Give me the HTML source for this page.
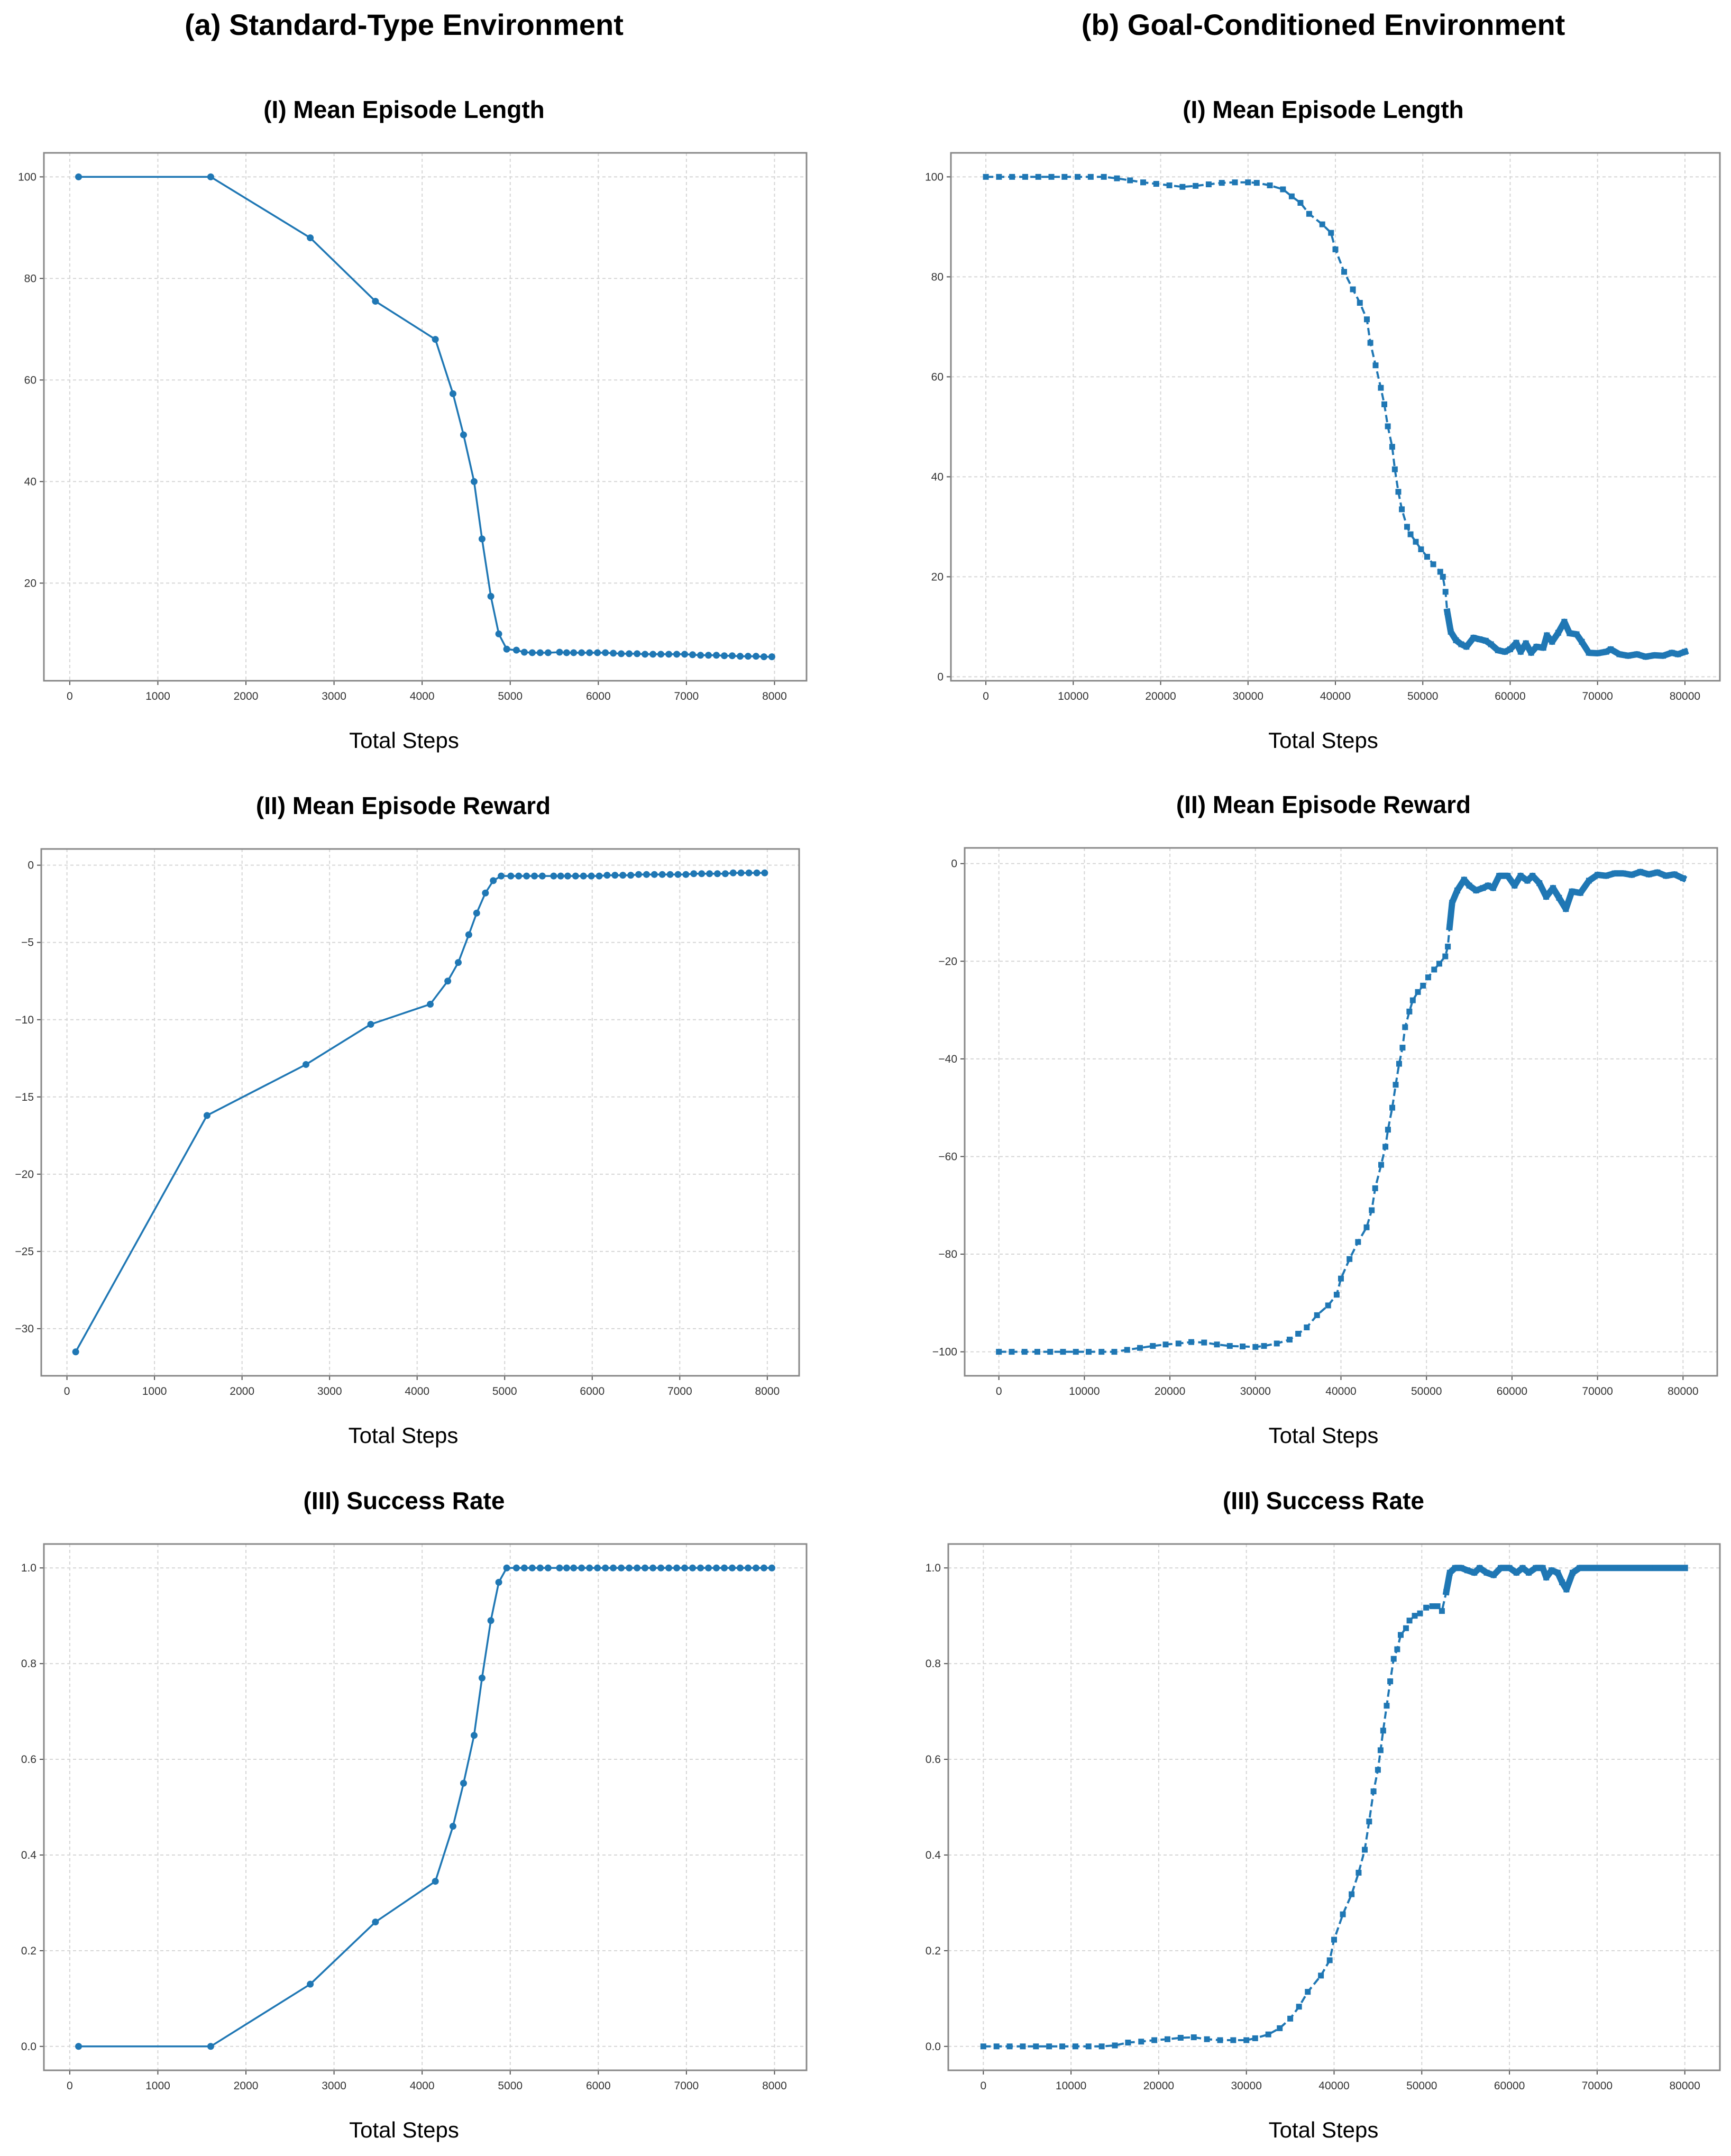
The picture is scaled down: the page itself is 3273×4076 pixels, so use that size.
<!DOCTYPE html>
<html><head><meta charset="utf-8">
<style>
html,body{margin:0;padding:0;background:#fff;}
svg{display:block;}
text{font-family:"Liberation Sans",sans-serif;}
</style></head>
<body>
<svg id="fig" width="3273" height="4076" viewBox="0 0 3273 4076" xmlns="http://www.w3.org/2000/svg">
<rect width="3273" height="4076" fill="#fff"/>
<text x="764" y="66" font-size="56" font-weight="bold" text-anchor="middle">(a) Standard-Type Environment</text>
<text x="2502" y="66" font-size="56" font-weight="bold" text-anchor="middle">(b) Goal-Conditioned  Environment</text>
</svg>
<script>
// ---- data: Standard-type environment ----
const aSteps = [100,1600,2730,3470,4150,4350,4470,4590,4680,4780,4870,4960,5070,5160,5250,5340,5430,5560,5640,5720,5810,5900,5990,6080,6170,6260,6350,6440,6530,6620,6710,6800,6890,6980,7070,7160,7250,7340,7430,7520,7610,7700,7790,7880,7970];
const aLength = [100,100,88,75.5,68,57.3,49.2,40,28.7,17.4,10,7,6.8,6.4,6.3,6.3,6.3,6.4,6.3,6.3,6.3,6.3,6.3,6.3,6.2,6.1,6.1,6.1,6.0,6.0,6.0,6.0,6.0,6.0,5.9,5.8,5.8,5.8,5.7,5.7,5.6,5.6,5.6,5.5,5.5];
const aReward = [-31.5,-16.2,-12.9,-10.3,-9,-7.5,-6.3,-4.5,-3.1,-1.8,-1.0,-0.7,-0.7,-0.7,-0.7,-0.7,-0.7,-0.7,-0.7,-0.7,-0.7,-0.7,-0.7,-0.7,-0.65,-0.65,-0.65,-0.65,-0.6,-0.6,-0.6,-0.6,-0.6,-0.6,-0.6,-0.55,-0.55,-0.55,-0.55,-0.55,-0.5,-0.5,-0.5,-0.5,-0.5];
const aSuccess = [0,0,0.13,0.26,0.345,0.46,0.55,0.65,0.77,0.89,0.97,1,1,1,1,1,1,1,1,1,1,1,1,1,1,1,1,1,1,1,1,1,1,1,1,1,1,1,1,1,1,1,1,1,1];
// ---- data: Goal-conditioned environment ----
const bLenSteps = [0,1500,3000,4500,6000,7500,9000,10500,12000,13500,15000,16500,18000,19500,21000,22500,24000,25500,27000,28500,30000,31000,32500,34000,35000,36000,37000,38500,39500,40000,41000,42000,42800,43600,44000,44600,45200,45600,46000,46500,46800,47200,47600,48200,48600,49200,49800,50500,51200,52000,52300,52600,52800,53200,53800,54400,55000,55800,56500,57200,57800,58600,59400,60000,60700,61200,61800,62400,63000,63800,64200,64800,65500,66200,66800,67600,68200,69000,70000,71000,71500,72500,73500,74500,75500,76500,77500,78500,79200,80000];
const bLength = [100,100,100,100,100,100,100,100,100,100,99.7,99.3,98.9,98.6,98.3,98.0,98.2,98.5,98.8,98.9,98.9,98.8,98.3,97.5,96.1,94.8,92.6,90.5,88.8,85.5,81,77.5,74.8,71.5,66.8,62.3,57.8,54.5,50.1,46.0,41.5,37.0,33.5,30.0,28.5,27,25.5,24,22.5,21,20,17,13,9,7.3,6.5,6,7.8,7.5,7.2,6.5,5.3,5.0,5.5,6.8,5.0,6.7,4.8,6.0,5.8,8.3,7.0,8.8,11.0,8.7,8.5,7.0,4.8,4.7,5.0,5.5,4.5,4.2,4.5,4.0,4.3,4.2,4.8,4.5,5.0];
const bRewSteps = [0,1500,3000,4500,6000,7500,9000,10500,12000,13500,15000,16500,18000,19500,21000,22500,24000,25500,27000,28500,30000,31000,32500,34000,35000,36000,37200,38500,39500,40000,41000,42000,43000,43600,44000,44700,45200,45500,46000,46400,46800,47200,47500,48000,48400,49000,49600,50200,50900,51500,52200,52500,52700,53000,53600,54400,55000,55800,56600,57200,57800,58500,59500,60300,61000,61800,62400,63200,64000,64800,65500,66300,67000,68000,69000,70000,71000,72000,73000,74000,75000,76000,77000,78000,79000,80000];
const bReward = [-100,-100,-100,-100,-100,-100,-100,-100,-100,-100,-99.6,-99.2,-98.8,-98.5,-98.3,-98,-98.1,-98.5,-98.8,-98.9,-99,-98.8,-98.3,-97.5,-96.3,-95,-92.5,-90.5,-88.3,-85,-81,-77.5,-74.5,-71,-66.5,-61.7,-58,-54.5,-50,-45.3,-41,-37.7,-33.5,-30.3,-28,-26.3,-25,-23.3,-21.7,-20.5,-19,-17,-13,-8,-5.5,-3.3,-4.5,-5.5,-5.0,-4.5,-5,-2.5,-2.5,-4.5,-2.5,-3.5,-2.5,-4.0,-6.8,-5.0,-7,-9.3,-5.7,-6,-3.5,-2.3,-2.5,-2.0,-2.0,-2.3,-1.7,-2.2,-1.8,-2.5,-2.2,-3.0];
const bSucSteps = [0,1500,3000,4500,6000,7500,9000,10500,12000,13500,15000,16500,18000,19500,21000,22500,24000,25500,27000,28500,30000,31000,32500,33800,35000,36000,37000,38500,39500,40000,41000,42000,42800,43500,44000,44500,45000,45300,45600,46000,46400,46800,47200,47600,48200,48600,49200,49800,50500,51200,51800,52300,52800,53200,53800,54500,55200,56000,56600,57400,58200,59000,60000,60800,61500,62200,63000,63800,64200,64800,65500,66000,66500,67200,68000,70000,72000,74000,76000,78000,80000];
const bSuccess = [0,0,0,0,0,0,0,0,0,0,0.002,0.008,0.01,0.013,0.015,0.018,0.019,0.015,0.013,0.013,0.013,0.017,0.025,0.038,0.058,0.083,0.114,0.148,0.18,0.223,0.276,0.318,0.363,0.411,0.47,0.533,0.578,0.619,0.66,0.712,0.763,0.81,0.83,0.86,0.874,0.89,0.9,0.905,0.917,0.92,0.92,0.91,0.95,0.99,1,1,0.995,0.99,1,0.99,0.985,1,1,0.99,1,0.99,1,1,0.98,0.995,0.99,0.97,0.955,0.99,1,1,1,1,1,1,1];
// tick labels
const aXTicks = [0,1000,2000,3000,4000,5000,6000,7000,8000];
const bXTicks = [0,10000,20000,30000,40000,50000,60000,70000,80000];
const lenTicksA = [20,40,60,80,100];
const lenTicksB = [0,20,40,60,80,100];
const rewTicksA = [0,-5,-10,-15,-20,-25,-30];
const rewTicksB = [0,-20,-40,-60,-80,-100];
const sucTicks = [0,0.2,0.4,0.6,0.8,1.0];

const NS = 'http://www.w3.org/2000/svg';
const svg = document.getElementById('fig');
const BLUE = '#1f77b4';
function mk(tag, attrs, parent){const e=document.createElementNS(NS,tag);for(const k in attrs)e.setAttribute(k,attrs[k]);(parent||svg).appendChild(e);return e;}
function fmt(v, dec){let s = dec? v.toFixed(1) : String(v); return s.replace('-', '\u2212');}

function panel(o){
  const g = mk('g',{});
  
  
  const xs=o.x, ys=o.y;
  const xmin=Math.min(...xs), xmax=Math.max(...xs), ymin=Math.min(...ys), ymax=Math.max(...ys);
  const xl=xmin-(xmax-xmin)*0.05, xh=xmax+(xmax-xmin)*0.05;
  const yl=ymin-(ymax-ymin)*0.05, yh=ymax+(ymax-ymin)*0.05;
  const X=v=>o.L+(v-xl)/(xh-xl)*(o.R-o.L);
  const Y=v=>o.B-(v-yl)/(yh-yl)*(o.B-o.T);
  const t = mk('text',{x:(o.L+o.R)/2+o.tdx,y:o.T-66,'font-size':46,'font-weight':'bold','text-anchor':'middle'},g);
  t.textContent=o.title;
  
  
  o.xt.forEach(v=>{
    const gl=mk('line',{x1:X(v),x2:X(v),y1:o.T,y2:o.B,stroke:'#d6d6d6','stroke-width':2,'stroke-dasharray':'6 5'},g);
    
    
    mk('line',{x1:X(v),x2:X(v),y1:o.B,y2:o.B+8,stroke:'#555','stroke-width':2},g);
    const tl=mk('text',{x:X(v),y:o.B+36,'font-size':21,fill:'#333','text-anchor':'middle'},g);
    tl.textContent=fmt(v,false);
    
    
  });
  o.yt.forEach(v=>{
    const gl=mk('line',{x1:o.L,x2:o.R,y1:Y(v),y2:Y(v),stroke:'#d6d6d6','stroke-width':2,'stroke-dasharray':'6 5'},g);
    
    
    mk('line',{x1:o.L-8,x2:o.L,y1:Y(v),y2:Y(v),stroke:'#555','stroke-width':2},g);
    const tl=mk('text',{x:o.L-14,y:Y(v)+7,'font-size':21,fill:'#333','text-anchor':'end'},g);
    tl.textContent=fmt(v,o.dec);
    
    
  });
  const fr=mk('rect',{x:o.L,y:o.T,width:o.R-o.L,height:o.B-o.T,fill:'none',stroke:'#888','stroke-width':3},g);
  
  
  const pts=xs.map((v,i)=>X(v).toFixed(1)+','+Y(ys[i]).toFixed(1)).join(' ');
  const ln=mk('polyline',{points:pts,fill:'none',stroke:BLUE,'stroke-width':o.dense?4:3.5,'stroke-dasharray':o.dense?'14 7':'none','stroke-linejoin':'round'},g);
  
  
  if(o.dense){
    const tail=[];xs.forEach((v,i)=>{if(v>=o.denseFrom)tail.push(X(v).toFixed(1)+','+Y(ys[i]).toFixed(1));});
    const th=mk('polyline',{points:tail.join(' '),fill:'none',stroke:BLUE,'stroke-width':12,'stroke-linejoin':'round','stroke-linecap':'square'},g);
    
    
  }
  xs.forEach((v,i)=>{
    let m;
    if(o.dense){m=mk('rect',{x:X(v)-5.5,y:Y(ys[i])-5.5,width:11,height:11,fill:BLUE},g);}
    else{m=mk('circle',{cx:X(v),cy:Y(ys[i]),r:6.5,fill:BLUE},g);}
    
    
  });
  const xa=mk('text',{x:(o.L+o.R)/2+o.tdx,y:o.B+127,'font-size':42,'text-anchor':'middle'},g);
  xa.textContent='Total Steps';
  
  
}

panel({name:'panel-a-episode-length',title:'(I) Mean Episode Length',L:83,R:1525,T:289,B:1287,tdx:-40,x:aSteps,y:aLength,xt:aXTicks,yt:lenTicksA,dec:false});
panel({name:'panel-a-episode-reward',title:'(II) Mean Episode Reward',L:78,R:1511,T:1605,B:2601,tdx:-32,x:aSteps,y:aReward,xt:aXTicks,yt:rewTicksA,dec:false});
panel({name:'panel-a-success-rate',title:'(III) Success Rate',L:83,R:1525,T:2919,B:3914,tdx:-40,x:aSteps,y:aSuccess,xt:aXTicks,yt:sucTicks,dec:true});
panel({name:'panel-b-episode-length',title:'(I) Mean Episode Length',L:1798,R:3252,T:289,B:1287,tdx:-23,x:bLenSteps,y:bLength,xt:bXTicks,yt:lenTicksB,dec:false,dense:true,denseFrom:52800});
panel({name:'panel-b-episode-reward',title:'(II) Mean Episode Reward',L:1824,R:3247,T:1603,B:2601,tdx:-33,x:bRewSteps,y:bReward,xt:bXTicks,yt:rewTicksB,dec:false,dense:true,denseFrom:52700});
panel({name:'panel-b-success-rate',title:'(III) Success Rate',L:1793,R:3252,T:2919,B:3914,tdx:-20,x:bSucSteps,y:bSuccess,xt:bXTicks,yt:sucTicks,dec:true,dense:true,denseFrom:52800});
</script>
</body></html>
